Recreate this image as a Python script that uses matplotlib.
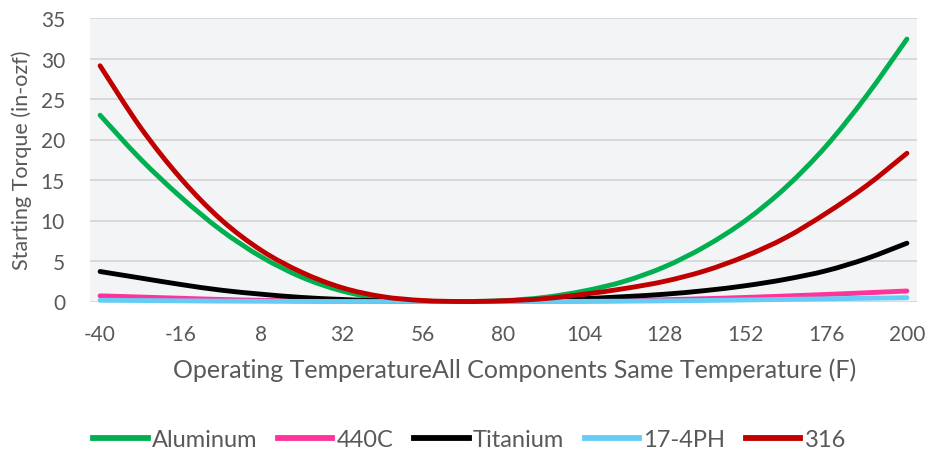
import matplotlib
matplotlib.use("Agg")
import matplotlib.pyplot as plt
from matplotlib.path import Path
from matplotlib.patches import PathPatch
from matplotlib.lines import Line2D

temps = [-40, -28, -16, -4, 8, 20, 32, 44, 56, 68, 80, 92, 104, 116, 128, 140, 152, 164, 176, 188, 200]
aluminum = [23.0, 17.6, 12.9, 8.8, 5.5, 3.0, 1.3, 0.35, 0.05, 0.0, 0.1, 0.5, 1.3, 2.5, 4.3, 6.8, 10.0, 14.1, 19.2, 25.4, 32.4]
c440 = [0.7, 0.55, 0.4, 0.25, 0.15, 0.08, 0.03, 0.01, 0.0, 0.0, 0.0, 0.02, 0.06, 0.12, 0.22, 0.35, 0.5, 0.68, 0.87, 1.08, 1.3]
titanium = [3.7, 2.9, 2.1, 1.4, 0.9, 0.5, 0.25, 0.08, 0.02, 0.0, 0.03, 0.12, 0.35, 0.6, 0.9, 1.35, 1.95, 2.75, 3.8, 5.3, 7.2]
ph174 = [0.15, 0.12, 0.08, 0.05, 0.03, 0.01, 0.0, 0.0, 0.0, 0.0, 0.0, 0.0, 0.02, 0.04, 0.08, 0.13, 0.19, 0.26, 0.33, 0.4, 0.47]
s316 = [29.1, 21.5, 15.2, 10.1, 6.3, 3.6, 1.7, 0.6, 0.12, 0.0, 0.08, 0.35, 0.9, 1.6, 2.5, 3.8, 5.6, 7.9, 10.9, 14.3, 18.3]

series_names = ["Aluminum", "440C", "Titanium", "17-4PH", "316"]
series_values = [aluminum, c440, titanium, ph174, s316]
series_colors = ["#00B050", "#FF3399", "#000000", "#66CCF5", "#C00000"]

xticks = [-40, -16, 8, 32, 56, 80, 104, 128, 152, 176, 200]
yticks = [0, 5, 10, 15, 20, 25, 30, 35]

plt.rcParams['font.family'] = ['Lato', 'DejaVu Sans']
plt.rcParams['axes.unicode_minus'] = False
text_color = "#595959"


def smooth_path(xs, ys):
    """Smoothed line (Catmull-Rom as cubic Bezier), like a spreadsheet 'smoothed line'."""
    n = len(xs)
    verts = [(xs[0], ys[0])]
    codes = [Path.MOVETO]
    for i in range(n - 1):
        x0, y0 = (xs[i - 1], ys[i - 1]) if i > 0 else (xs[i], ys[i])
        x1, y1 = xs[i], ys[i]
        x2, y2 = xs[i + 1], ys[i + 1]
        x3, y3 = (xs[i + 2], ys[i + 2]) if i + 2 < n else (xs[i + 1], ys[i + 1])
        c1 = (x1 + (x2 - x0) / 6.0, y1 + (y2 - y0) / 6.0)
        c2 = (x2 - (x3 - x1) / 6.0, y2 - (y3 - y1) / 6.0)
        verts += [c1, c2, (x2, y2)]
        codes += [Path.CURVE4] * 3
    return Path(verts, codes)


fig = plt.figure(figsize=(9.30, 4.56), dpi=100)
ax = fig.add_axes([90/930, 1 - 302.5/456, (917-90)/930, (302.5-19)/456])
ax.set_facecolor("#F3F4F6")

handles = []
for name, vals, col in zip(series_names, series_values, series_colors):
    patch = PathPatch(smooth_path(temps, vals), facecolor='none', edgecolor=col, lw=3.5,
                      capstyle='round', joinstyle='round', clip_on=False, zorder=3)
    ax.add_patch(patch)
    handles.append(Line2D([], [], color=col, lw=4.2, label=name))

ax.set_xlim(-43, 203)
ax.set_ylim(0, 35)
ax.set_xticks(xticks)
ax.set_yticks(yticks)
ax.tick_params(axis='both', length=0, labelsize=15, colors=text_color)
ax.tick_params(axis='x', pad=16)
ax.tick_params(axis='y', pad=18)
ax.grid(axis='y', color="#D9D9D9", lw=1.4, zorder=0)
ax.set_axisbelow(True)
for s in ax.spines.values():
    s.set_visible(False)

ax.set_xlabel("Operating TemperatureAll Components Same Temperature (F)", fontsize=18,
              color=text_color, labelpad=12)
ax.xaxis.set_label_coords(0.513, -0.197)
ax.set_ylabel("Starting Torque (in-ozf)", fontsize=15.5, color=text_color, labelpad=6)

leg = fig.legend(handles=handles, loc='center', bbox_to_anchor=(0.505, 1 - 441/456), ncol=5,
                 frameon=False, fontsize=17, handlelength=2.3, handletextpad=0.18,
                 columnspacing=0.88, labelcolor=text_color)

fig.savefig("out.png", dpi=100)
